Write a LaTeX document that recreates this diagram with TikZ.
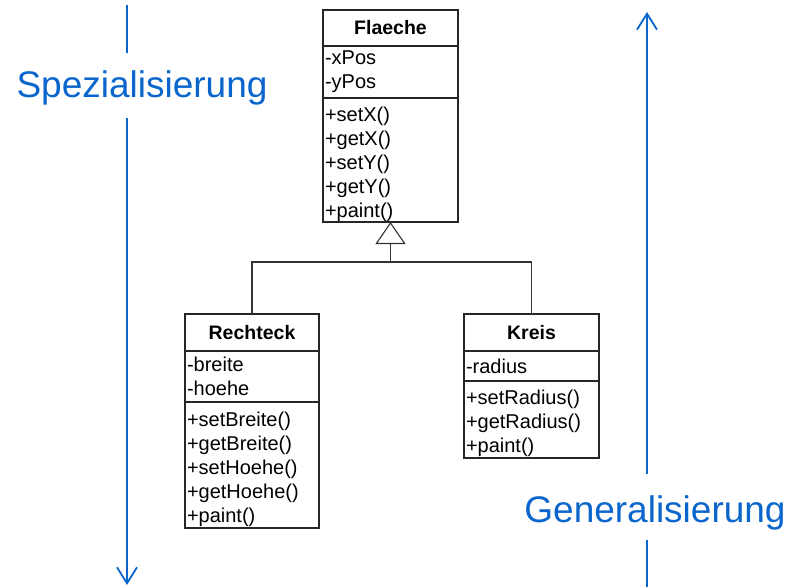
\documentclass[tikz,border=0pt]{standalone}
\usepackage{fontspec}
\setmainfont{Liberation Sans}
\usetikzlibrary{arrows.meta}
\definecolor{dirblue}{HTML}{0A66CC}
\tikzset{
  cpart/.style={draw=black!85, line width=1.2pt, fill=white, inner xsep=2pt,
    inner ysep=0pt, outer sep=0pt, anchor=north west, align=left,
    font=\fontsize{20}{24}\selectfont},
  % operation list: a little more room above the first line
  oplist/.style={cpart, execute at begin node={\rule{0pt}{23pt}}},
  ctitle/.style={cpart, align=center, font=\fontsize{19.5}{24}\selectfont\bfseries},
  conn/.style={draw=black!80, line width=1.1pt},
  dirline/.style={draw=dirblue, line width=1.8pt},
  dirtip/.style={-{Straight Barb[length=16pt,width=20pt,line width=1.8pt]}},
  dirlabel/.style={text=dirblue, anchor=base, inner sep=0pt,
    font=\fontsize{37}{44}\selectfont},
}
\begin{document}
\begin{tikzpicture}[x=1pt,y=-1pt]
\useasboundingbox (0,0) rectangle (800,587);

% base class
\node[ctitle, text width=131pt, minimum height=36pt] (fT) at (323,10) {Flaeche};
\node[cpart, text width=131pt, minimum height=52pt] (fA) at (fT.south west) {-xPos\\-yPos};
\node[oplist, text width=131pt, minimum height=124pt] (fM) at (fA.south west)
  {+setX()\\+getX()\\+setY()\\+getY()\\+paint()};

% subclass Rechteck
\node[ctitle, text width=130pt, minimum height=37pt] (rT) at (185,314) {Rechteck};
\node[cpart, text width=130pt, minimum height=51pt] (rA) at (rT.south west) {-breite\\-hoehe};
\node[oplist, text width=130pt, minimum height=126pt] (rM) at (rA.south west)
  {+setBreite()\\+getBreite()\\+setHoehe()\\+getHoehe()\\+paint()};

% subclass Kreis
\node[ctitle, text width=131pt, minimum height=37pt] (kT) at (464,314) {Kreis};
\node[cpart, text width=131pt, minimum height=30pt] (kA) at (kT.south west) {-radius};
\node[oplist, text width=131pt, minimum height=77pt] (kM) at (kA.south west)
  {+setRadius()\\+getRadius()\\+paint()};

% inheritance
\coordinate (j) at (fM.south |- 0,262);
\draw[conn] (rT.north) |- (j) -| (kT.north);
\draw[conn, -{Triangle[open, length=22pt, width=30pt, line width=1.1pt]}] (j) -- (fM.south);

% direction arrows
\coordinate (s1) at (127,5);
\coordinate (s2) at (127,53);
\coordinate (s3) at (127,118);
\coordinate (s4) at (127,585);
\node[dirlabel] (spez) at (142,97) {Spezialisierung};
\draw[dirline] (s1) -- (s2);
\draw[dirline, dirtip] (s3) -- (s4);

\coordinate (g1) at (647,587);
\coordinate (g2) at (647,540);
\coordinate (g3) at (647,474);
\coordinate (g4) at (647,12);
\node[dirlabel] (gen) at (655,522) {Generalisierung};
\draw[dirline] (g1) -- (g2);
\draw[dirline, dirtip] (g3) -- (g4);
\end{tikzpicture}
\end{document}
